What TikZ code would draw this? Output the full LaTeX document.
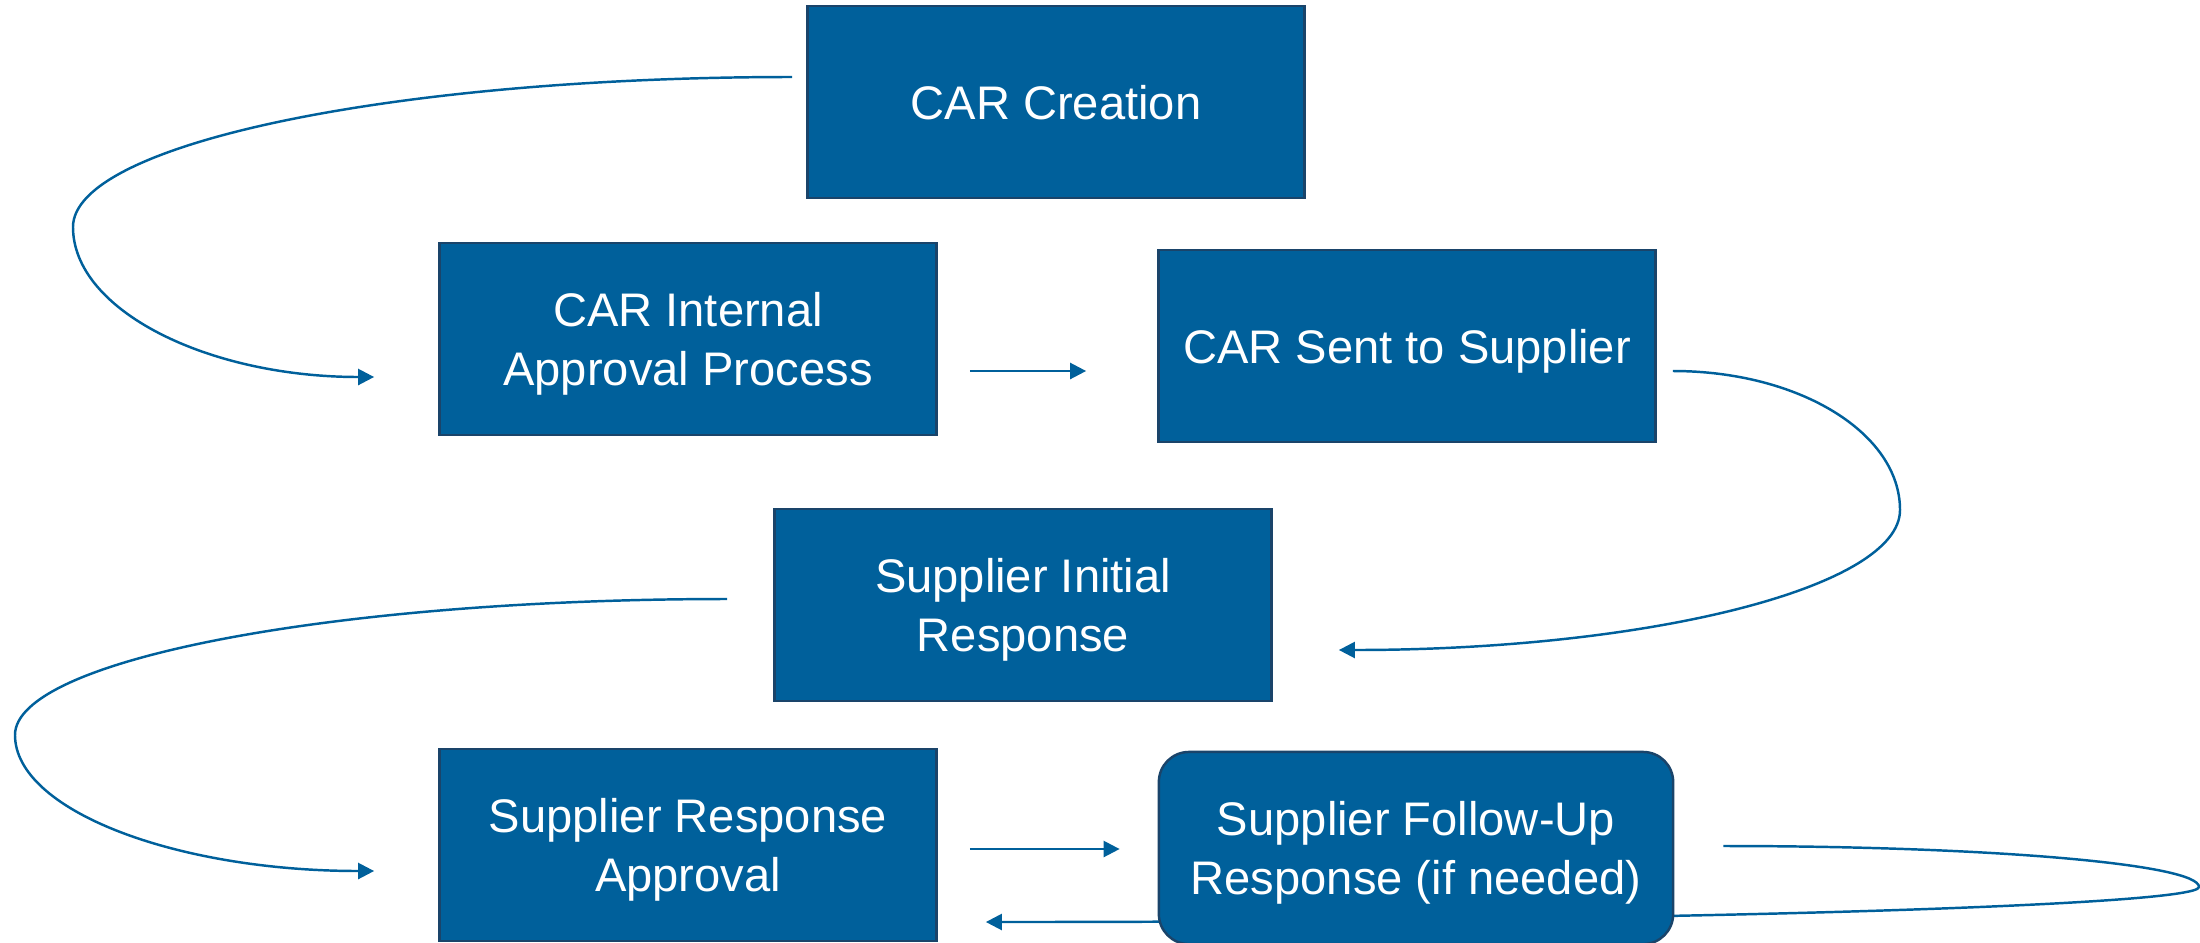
\documentclass[tikz,border=0pt]{standalone}
\usepackage{fontspec}
\setmainfont{Liberation Sans}
\usetikzlibrary{arrows.meta}
\usetikzlibrary{calc}
\usetikzlibrary{backgrounds}
\definecolor{carblue}{RGB}{0,96,155}
\definecolor{caredge}{RGB}{26,68,106}
\tikzset{
    stepbox/.style={draw=caredge,line width=0.7pt,fill=carblue,text=white,
        minimum width=4.97cm,minimum height=1.92cm,inner sep=0pt,align=center,
        text depth=0pt,font=\fontsize{13.4}{16.8}\selectfont},
    flow/.style={carblue,line width=0.7pt,-{Triangle[length=0.16cm,width=0.16cm]}},
}

\begin{document}
\begin{tikzpicture}[x=0.01cm,y=-0.01cm]
\useasboundingbox (0,0) rectangle (2200,942);
\node[stepbox] (cre) at (1056,102) {CAR Creation};
\node[stepbox] (int) at (688,339) {CAR Internal\\Approval Process};
\node[stepbox] (snt) at (1407,346) {CAR Sent to Supplier};
\node[stepbox] (ini) at (1023,605) {Supplier Initial\\Response};
\node[stepbox] (apr) at (688,845) {Supplier Response\\Approval};
\node[stepbox,rounded corners=0.3cm,minimum width=5.14cm] (fol) at (1416,848) {Supplier Follow-Up\\Response (if needed)};
% ends of the connectors
\coordinate (s1) at ($(cre.west)+(-14,-25)$);
\coordinate (l1) at (73,227);
\coordinate (e1) at ($(int.west)+(-64,38)$);
\coordinate (s2) at ($(int.east)+(32,32)$);
\coordinate (e2) at ($(snt.west)+(-71,25)$);
\coordinate (s3) at ($(snt.east)+(16,25)$);
\coordinate (r3) at (1900,510);
\coordinate (e3) at ($(ini.east)+(66,45)$);
\coordinate (s4) at ($(ini.west)+(-46,-6)$);
\coordinate (l4) at (15,735);
\coordinate (e4) at ($(apr.west)+(-64,26)$);
\coordinate (s5) at ($(apr.east)+(32,4)$);
\coordinate (e5) at ($(fol.west)+(-38,1)$);
\coordinate (s6) at ($(fol.east)+(49,-2)$);
\coordinate (r6) at (2199,887);
\coordinate (e6) at ($(apr.east)+(48,77)$);
\begin{scope}[on background layer]
\draw[flow] (s1) to[out=180,in=90,out distance=3.98cm,in distance=0.83cm] (l1)
    to[out=-90,in=180,out distance=0.83cm,in distance=1.67cm] (e1);
\draw[flow] (s2) -- (e2);
\draw[flow] (s3) to[out=0,in=90,out distance=1.26cm,in distance=0.77cm] (r3)
    to[out=-90,in=0,out distance=0.77cm,in distance=3.11cm] (e3);
\draw[flow] (s4) to[out=180,in=90,out distance=3.94cm,in distance=0.75cm] (l4)
    to[out=-90,in=180,out distance=0.75cm,in distance=1.99cm] (e4);
\draw[flow] (s5) -- (e5);
\draw[flow] (s6) to[out=0,in=90,out distance=2.64cm,in distance=0.23cm] (r6)
    to[out=-90,in=0,out distance=0.19cm,in distance=6.71cm] (e6);
\end{scope}
\end{tikzpicture}
\end{document}
